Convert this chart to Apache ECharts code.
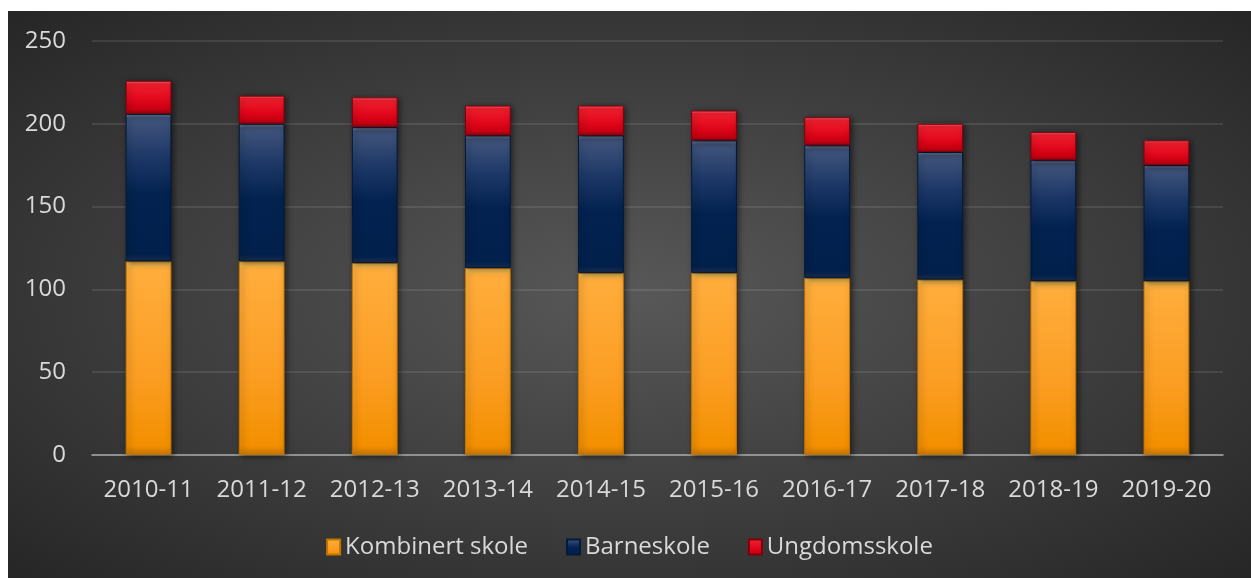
<!DOCTYPE html>
<html lang="nb">
<head>
  <meta charset="UTF-8">
  <title>Skoler</title>
  <script src="https://cdn.jsdelivr.net/npm/echarts@6/dist/echarts.min.js"></script>
  <style>
    html, body { margin: 0; padding: 0; background: #fff; }
    #chart {
      position: absolute; left: 8px; top: 11px; width: 1243px; height: 567px;
      background: radial-gradient(ellipse at 50% 50%, #585858 0%, #3d3d3d 55%, #262626 100%);
    }
  </style>
</head>
<body>
<div id="chart"></div>
<script>
  // skoleår og antall skoler
  var years = ['2010-11','2011-12','2012-13','2013-14','2014-15','2015-16','2016-17','2017-18','2018-19','2019-20'];
  var kombinert = [117, 117, 116, 113, 110, 110, 107, 106, 105, 105];
  var barne     = [89, 83, 82, 80, 83, 80, 80, 77, 73, 70];
  var ungdom    = [20, 17, 18, 18, 18, 18, 17, 17, 17, 15];
  var yTicks = [0, 50, 100, 150, 200, 250];

  function grad(stops) {
    return new echarts.graphic.LinearGradient(0, 0, 0, 1, stops.map(function (s) {
      return { offset: s[0], color: s[1] };
    }));
  }

  var orange = grad([[0, '#ffd060'], [0.04, '#ffad3c'], [0.6, '#fb9d22'], [0.95, '#f39000'], [1, '#d07a00']]);
  var navy = grad([[0, '#8393b3'], [0.03, '#41557c'], [0.3, '#1c3766'], [0.55, '#03224f'], [0.95, '#02204c'], [1, '#1a2f50']]);
  var red = grad([[0, '#ff6b78'], [0.1, '#f0202e'], [0.6, '#e0061a'], [0.88, '#c80012'], [1, '#8f0b14']]);

  function serie(name, data, color, border) {
    return {
      name: name,
      type: 'bar',
      stack: 'tot',
      barWidth: '40.5%',
      data: data,
      itemStyle: {
        color: color,
        borderColor: border,
        borderWidth: 1,
        shadowColor: 'rgba(0,0,0,0.55)',
        shadowBlur: 6,
        shadowOffsetX: 2,
        shadowOffsetY: 1
      }
    };
  }

  var chart = echarts.init(document.getElementById('chart'));
  var font = '"Open Sans", "Noto Sans", sans-serif';
  chart.setOption({
    animation: false,
    textStyle: { fontFamily: font },
    grid: { left: 84, right: 28, top: 30, bottom: 123 },
    legend: {
      bottom: 14,
      left: 'center',
      itemWidth: 13,
      itemHeight: 15,
      itemGap: 38,
      icon: 'rect',
      textStyle: { color: '#d9d9d9', fontSize: 24, fontFamily: font },
      data: ['Kombinert skole', 'Barneskole', 'Ungdomsskole']
    },
    xAxis: {
      type: 'category',
      data: years,
      axisTick: { show: false },
      axisLine: { lineStyle: { color: '#a8a8a8', width: 1.5 } },
      axisLabel: { color: '#d9d9d9', fontSize: 24, margin: 23, interval: 0 }
    },
    yAxis: {
      type: 'value',
      min: yTicks[0],
      max: yTicks[yTicks.length - 1],
      interval: 50,
      axisLine: { show: false },
      axisTick: { show: false },
      axisLabel: { color: '#d9d9d9', fontSize: 24, margin: 26 },
      splitLine: { lineStyle: { color: 'rgba(255,255,255,0.13)', width: 1.5 } }
    },
    series: [
      serie('Kombinert skole', kombinert, orange, '#c27400'),
      serie('Barneskole', barne, navy, '#021a3c'),
      serie('Ungdomsskole', ungdom, red, '#80000c')
    ]
  });
</script>
</body>
</html>
